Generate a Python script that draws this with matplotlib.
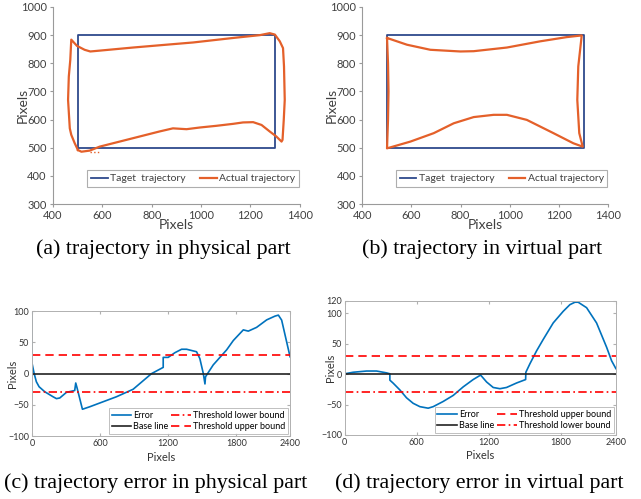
import matplotlib
matplotlib.use("Agg")
import matplotlib.pyplot as plt

# ---- data ----
target_x = [500, 1300, 1300, 500, 500]
target_y = [500, 500, 900, 900, 500]

# (a) physical trajectory
phys_x = [501, 515, 549, 589, 670, 751, 832, 886, 941, 995, 1062, 1130, 1170, 1211, 1245, 1278, 1305, 1326,
          1330, 1335, 1339, 1336, 1332, 1319, 1299, 1278,
          1238, 1130, 968, 859, 724, 589, 551, 528, 497, 474,
          470, 464, 461, 468, 474, 488, 501]
phys_y = [492, 486, 490, 504, 522, 540, 558, 569, 566, 572, 578, 585, 590, 591, 581, 558, 540, 522,
          528, 599, 670, 789, 854, 878, 902, 907,
          900, 890, 874, 866, 856, 845, 842, 848, 862, 884,
          812, 753, 670, 569, 546, 516, 492]
phys_tail_x = [549, 596]
phys_tail_y = [486, 486]

# (b) virtual trajectory
virt_x = [501, 582, 677, 799, 853, 988, 1123, 1231, 1292,
          1278, 1274, 1282, 1296,
          1258, 1177, 1069, 988, 934, 853, 772, 691, 596, 501,
          505, 507, 505, 501]
virt_y = [890, 866, 848, 842, 843, 856, 878, 893, 899,
          789, 670, 552, 504,
          516, 552, 599, 617, 617, 609, 587, 552, 522, 498,
          600, 700, 800, 890]

# (c) error in physical part
err_c_x = [0, 0, 18, 38, 62, 112, 185, 215, 244, 303, 376, 385, 397, 444, 509, 597, 744, 891, 1053,
           1156, 1156, 1200, 1259, 1318, 1362, 1450, 1479, 1509, 1524, 1529, 1597, 1715, 1774,
           1862, 1906, 1979, 2068, 2141, 2171, 2200, 2274]
err_c_y = [99, 16.5, 0.5, -13, -21, -29, -37, -40, -39, -30, -27, -15, -23, -57, -53, -47, -37, -25, 0,
           10, 26, 26, 33.5, 39, 39, 35, 24, 0.5, -16.5, -5, 14, 38, 53,
           70, 68, 74, 86, 92, 93.6, 85.6, 27]

# (d) error in virtual part
err_d_x = [0, 69, 181, 264, 347, 375, 375, 403, 458, 514, 569, 625, 694, 736, 819, 903, 986, 1069,
           1131, 1181, 1236, 1292, 1347, 1431, 1506, 1508, 1542, 1597, 1653, 1736, 1819, 1875,
           1917, 1944, 2014, 2097, 2181, 2222, 2258]
err_d_y = [0.5, 3, 5, 5, 2, 0.5, -10, -15, -26, -39, -48, -53.5, -56, -53.5, -45, -35, -21, -9,
           -1.6, -13, -22, -24, -22, -14.6, -9, 3, 17, 38, 57, 84, 103, 114,
           118, 118, 109, 84, 44, 22, 9]

threshold = 30
err_ticks = [0, 600, 1200, 1800, 2400]

navy = "#2E4A8C"
orange = "#E4602A"
blue = "#0072BD"
grey = "#9a9a9a"
sans = "Lato"
serif = "Liberation Serif"

fig = plt.figure(figsize=(6.41, 4.99), dpi=100)


def traj_axes(rect, xs, ys, tail=None):
    ax = fig.add_axes(rect)
    ax.plot(target_x, target_y, color=navy, lw=1.3, label="Taget  trajectory")
    ax.plot(xs, ys, color=orange, lw=1.6, label="Actual trajectory")
    if tail is not None:
        ax.plot(tail[0], tail[1], color=orange, lw=1.0, ls=":")
    ax.set_xlim(400, 1400)
    ax.set_ylim(300, 1000)
    ax.set_xticks(range(400, 1401, 200))
    ax.set_yticks(range(300, 1001, 100))
    for s in ["top", "right"]:
        ax.spines[s].set_visible(False)
    for s in ["left", "bottom"]:
        ax.spines[s].set_color(grey)
        ax.spines[s].set_linewidth(0.8)
    ax.tick_params(direction="out", length=2.5, color=grey, labelsize=8, pad=2)
    for lab in ax.get_xticklabels() + ax.get_yticklabels():
        lab.set_family(sans)
        lab.set_color("#404040")
    ax.set_xlabel("Pixels", family=sans, fontsize=10, color="#404040", labelpad=-2)
    ax.set_ylabel("Pixels", family=sans, fontsize=10, color="#404040", labelpad=-6)
    leg = ax.legend(loc="lower center", bbox_to_anchor=(0.567, 0.06), ncol=2,
                    frameon=True, fancybox=False, handlelength=1.6, handletextpad=0.2,
                    columnspacing=1.4, borderpad=0.35, prop={"family": sans, "size": 7.5})
    leg.get_frame().set_edgecolor(grey)
    leg.get_frame().set_linewidth(0.8)
    for t in leg.get_texts():
        t.set_color("#404040")
    return ax


def err_axes(rect, xs, ys, xmax, ymax, yticks, order, ypad, xpad):
    ax = fig.add_axes(rect)
    h_err, = ax.plot(xs, ys, color=blue, lw=1.2, label="Error")
    h_base = ax.axhline(0, color="#222222", lw=1.2, label="Base line")
    h_up = ax.axhline(threshold, color="red", lw=1.2, ls=(0, (5, 3)), label="Threshold upper bound")
    h_lo = ax.axhline(-threshold, color="red", lw=1.2, ls=(0, (5, 2, 1, 2)), label="Threshold lower bound")
    ax.set_xlim(0, xmax)
    ax.set_ylim(-100, ymax)
    ax.set_xticks([0, 600, 1200, 1800, xmax])
    ax.set_xticklabels([str(t) for t in err_ticks])
    ax.set_yticks(yticks)
    for s in ax.spines.values():
        s.set_color("#b0b0b0")
        s.set_linewidth(0.7)
    ax.tick_params(direction="in", length=2, color="#b0b0b0", labelsize=6.5, pad=2,
                   top=True, right=True)
    for lab in ax.get_xticklabels() + ax.get_yticklabels():
        lab.set_family(sans)
        lab.set_color("#333333")
    ax.set_xlabel("Pixels", family=sans, fontsize=8, color="#333333", labelpad=xpad)
    ax.set_ylabel("Pixels", family=sans, fontsize=8, color="#333333", labelpad=ypad)
    hs = {"err": h_err, "base": h_base, "up": h_up, "lo": h_lo}
    handles = [hs[k] for k in order]
    leg = ax.legend(handles=handles, loc="lower right", ncol=2,
                    frameon=True, fancybox=False, handlelength=2.2, handletextpad=0.2,
                    columnspacing=0.3, borderpad=0.3, labelspacing=0.25,
                    borderaxespad=0.25, prop={"family": sans, "size": 6.5})
    leg.get_frame().set_edgecolor("#b0b0b0")
    leg.get_frame().set_linewidth(0.7)
    return ax


traj_axes([0.0827, 0.591, 0.385, 0.395], phys_x, phys_y, tail=(phys_tail_x, phys_tail_y))
traj_axes([0.565, 0.591, 0.384, 0.395], virt_x, virt_y)

err_axes([0.050, 0.126, 0.4025, 0.2505], err_c_x, err_c_y, 2274, 100,
         [-100, -50, 0, 50, 100], ["err", "base", "lo", "up"], ypad=-7, xpad=3)
err_axes([0.538, 0.1283, 0.4228, 0.2685], err_d_x, err_d_y, 2258, 120,
         [-100, -50, 0, 50, 100, 120], ["err", "base", "up", "lo"], ypad=-11, xpad=2)

cap_size = 15.8
fig.text(163 / 641, 1 - 254 / 499, "(a) trajectory in physical part", family=serif,
         fontsize=cap_size, ha="center", va="baseline")
fig.text(482 / 641, 1 - 254 / 499, "(b) trajectory in virtual part", family=serif,
         fontsize=cap_size, ha="center", va="baseline")
fig.text(156 / 641, 1 - 488 / 499, "(c) trajectory error in physical part", family=serif,
         fontsize=cap_size, ha="center", va="baseline")
fig.text(479 / 641, 1 - 488 / 499, "(d) trajectory error in virtual part", family=serif,
         fontsize=cap_size, ha="center", va="baseline")

fig.savefig("out.png", dpi=100)
